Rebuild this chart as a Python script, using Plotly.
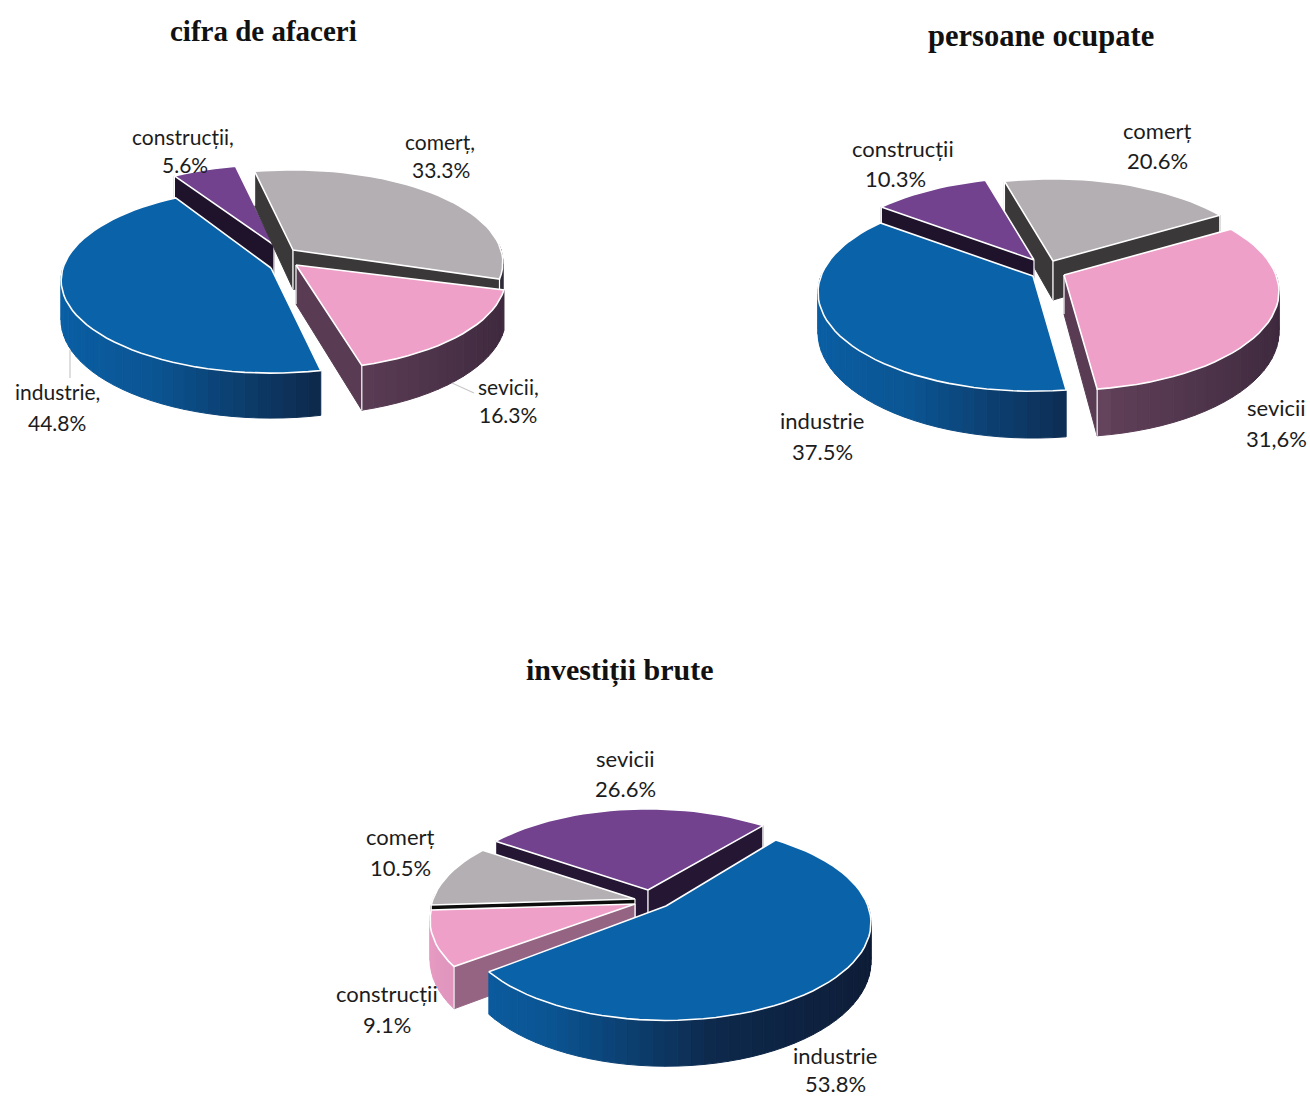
import numpy as np
import plotly.graph_objects as go

# ---- data ----
cat1 = ["industrie", "construcții", "comerț", "sevicii"]
val1 = [44.8, 5.6, 33.3, 16.3]
cat2 = ["industrie", "construcții", "comerț", "sevicii"]
val2 = [37.5, 10.3, 20.6, 31.6]
cat3 = ["industrie", "construcții", "comerț", "sevicii"]
val3 = [53.8, 9.1, 10.5, 26.6]
lab1 = ["44.8%", "5.6%", "33.3%", "16.3%"]
lab2 = ["37.5%", "10.3%", "20.6%", "31,6%"]
lab3 = ["53.8%", "9.1%", "10.5%", "26.6%"]
titles = ["cifra de afaceri", "persoane ocupate", "investiții brute"]

# ---- style / layout ----
BASE = {"blue": (10, 98, 169), "purple": (114, 66, 143), "grey": (180, 175, 178), "pink": (239, 160, 201)}
DARK = (15, 10, 25)
WALL_X = [-1, -0.5, 0.2, 1]
WALL_F = [0.97, 0.85, 0.35, 0.2]


def rgb(c):
    return "rgb(%d,%d,%d)" % tuple(int(round(min(255, v))) for v in c)


def shade(name, f):
    return rgb([v * f + d * (1 - f) for v, d in zip(BASE[name], DARK)])


pies = [
    dict(vals=val1, cx=282, cy=258, rx=208, ry=91, depth=39, k=0.134, start=166.5,
         off=[(-11, 10), (-8, -13), (11, -8), (14, 7)], nudge=[1.5, 0, 0, -2.5],
         cols=["blue", "purple", "grey", "pink"],
         cut=[shade("blue", 0.3), shade("purple", 0.16), "#3a3839", shade("pink", 0.33)]),
    dict(vals=val2, cx=1046, cy=268, rx=212, ry=96, depth=39, k=0.167, start=172.5,
         off=[(-13, 8), (-12, -8), (7, -7), (18, 7)], nudge=[0, 0, 0, 0],
         cols=["blue", "purple", "grey", "pink"],
         cut=[shade("blue", 0.3), shade("purple", 0.16), "#3a3839", shade("pink", 0.33)]),
    dict(vals=val3, cx=645, cy=900, rx=202, ry=95, depth=38, k=0.17, start=40,
         off=[(21, 6), (-10, 4), (-10, -1), (3, -10)], nudge=[-2, 0, 0, 0],
         cols=["blue", "pink", "grey", "purple"],
         cut=[shade("blue", 0.3), shade("pink", 0.6), "#0d0d0d", shade("purple", 0.22)]),
]

fig = go.Figure()


def poly(xs, ys, fill, line=None, width=1):
    fig.add_trace(go.Scatter(x=xs, y=ys, mode="lines", fill="toself", fillcolor=fill,
                             line=dict(color=line or fill, width=width),
                             hoverinfo="skip", showlegend=False))


def line(xs, ys, color, width=1.5):
    fig.add_trace(go.Scatter(x=xs, y=ys, mode="lines", line=dict(color=color, width=width),
                             hoverinfo="skip", showlegend=False))


def draw_pie(p):
    spans = np.array(p["vals"]) / sum(p["vals"]) * 360.0
    a0 = p["start"]
    slices = []
    for i, sp in enumerate(spans):
        slices.append((i, a0 + p["nudge"][i], a0 + sp + p["nudge"][i]))
        a0 += sp

    def sort_key(item):
        _, a, b = item
        return -np.cos(np.radians((a + b) / 2))

    for i, a, b in sorted(slices, key=sort_key):
        ax, ay = p["cx"] + p["off"][i][0], p["cy"] + p["off"][i][1]
        name = p["cols"][i]

        def rim(t, z=0.0):
            Y = -np.cos(t)
            s = 1.0 / (1.0 - p["k"] * Y)
            return ax + p["rx"] * np.sin(t) * s, ay + p["ry"] * Y * s + z * p["depth"] * s

        ang = np.radians(np.linspace(a, b, max(4, int((b - a) / 3) + 1)))

        # outer wall, split so the lighting runs along the rim
        for j in range(len(ang) - 1):
            if -np.cos(ang[j]) < -0.02 and -np.cos(ang[j + 1]) < -0.02:
                continue
            f = float(np.interp(np.sin((ang[j] + ang[j + 1]) / 2), WALL_X, WALL_F))
            pts = [rim(ang[j]), rim(ang[j + 1]), rim(ang[j + 1], 1), rim(ang[j], 1)]
            poly([q[0] for q in pts] + [pts[0][0]], [q[1] for q in pts] + [pts[0][1]], shade(name, f))

        # the two cut faces, if they look towards the viewer
        col = p["cut"][i]
        for th, sign in ((a, -1), (b, 1)):
            t = np.radians(th)
            normal = t + sign * np.pi / 2
            if -np.cos(normal) <= 0:
                continue
            r0, r1 = rim(t), rim(t, 1)
            bottom = ay + p["depth"]
            poly([ax, r0[0], r1[0], ax, ax], [ay, r0[1], r1[1], bottom, ay], col)
            line([ax, ax], [ay, bottom], "white", 1.2)
            line([r0[0], r1[0]], [r0[1], r1[1]], "white", 1.2)

        # top
        xs, ys = [ax], [ay]
        for t in ang:
            q = rim(t)
            xs.append(q[0])
            ys.append(q[1])
        xs.append(ax)
        ys.append(ay)
        poly(xs, ys, rgb(BASE[name]), "white", 1.6)


for p in pies:
    draw_pie(p)

# leader lines of the first pie
line([70, 70], [350, 378], "#c8c8c8", 1.2)
line([452, 474], [383, 393], "#c8c8c8", 1.2)

# ---- labels ----
LF = "Lato"
TF = "Liberation Serif"


def text(x, y, s, font=LF, size=22, bold=False):
    fig.add_annotation(x=x, y=y, text=("<b>%s</b>" % s) if bold else s, showarrow=False,
                       xanchor="center", yanchor="middle",
                       font=dict(family=font, size=size, color="#1c1c1c" if not bold else "#111"))


pos1 = [(57, 391, 57, 422), (183, 136, 185, 164), (440, 141, 441, 169), (508, 386, 508, 414)]
for c, l, q in zip(cat1, lab1, pos1):
    text(q[0], q[1], c + ",", size=21)
    text(q[2], q[3], l, size=21)

pos2 = [(822, 420, 822, 451), (903, 148, 895, 178), (1157, 130, 1157, 160), (1276, 407, 1276, 438)]
for c, l, q in zip(cat2, lab2, pos2):
    text(q[0], q[1], c)
    text(q[2], q[3], l)

pos3 = [(835, 1055, 835, 1083), (387, 993, 387, 1024), (400, 836, 400, 867), (625, 758, 625, 788)]
for c, l, q in zip(cat3, lab3, pos3):
    text(q[0], q[1], c)
    text(q[2], q[3], l)

for (x, y), s, sz in zip([(263, 31), (1041, 36), (620, 670)], titles, [29, 30.5, 30]):
    text(x, y, s, TF, sz, True)

fig.update_layout(width=1310, height=1097, margin=dict(l=0, r=0, t=0, b=0),
                  paper_bgcolor="white", plot_bgcolor="white", showlegend=False,
                  xaxis=dict(range=[0, 1310], visible=False, fixedrange=True),
                  yaxis=dict(range=[1097, 0], visible=False, fixedrange=True))

fig.write_html("out.html", config={"displayModeBar": False},
               post_script="document.body.style.margin='0';document.documentElement.style.overflow='hidden';")
